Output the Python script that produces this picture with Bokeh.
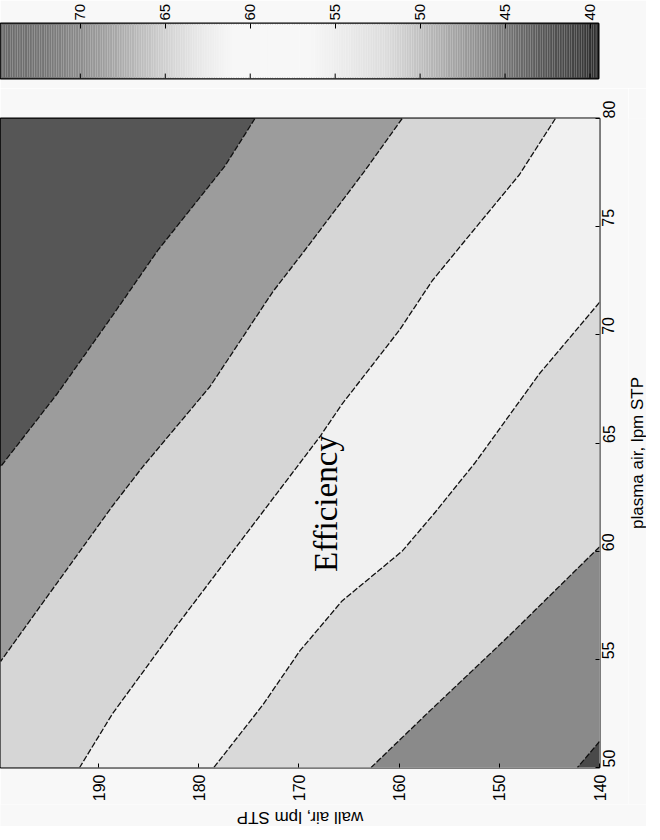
import math
import numpy as np
from bokeh.plotting import figure
from bokeh.models import Range1d, FixedTicker, Label
from bokeh.layouts import column, row
from bokeh.embed import file_html
from bokeh.resources import INLINE

# ---------------- data ----------------
WALL_TICKS = [140, 150, 160, 170, 180, 190]
PLASMA_TICKS = [50, 55, 60, 65, 70, 75, 80]
CB_TICKS = [40, 45, 50, 55, 60, 65, 70]
WALL_MIN, WALL_MAX = 140.0, 199.8
PLASMA_MIN, PLASMA_MAX = 50.0, 80.0
EFF_MIN, EFF_MAX = 39.5, 74.7
LEVELS = [45, 50, 55, 60, 65, 70]

# contour lines: (wall air, plasma air) points, lpm STP
C45_WALL = [174.4, 177.4, 184.1, 188.6, 194.1, 199.8]
C45_PLASMA = [80.0, 77.8, 73.9, 70.9, 67.3, 63.9]
C50_WALL = [159.7, 163.4, 169.1, 172.6, 178.9, 185.6, 188.6, 199.8]
C50_PLASMA = [80.0, 77.6, 74.1, 72.0, 67.6, 63.9, 62.1, 54.9]
C55_WALL = [144.4, 148.0, 153.7, 156.7, 160.0, 165.7, 167.9, 175.6, 182.3, 185.6, 188.6, 191.9]
C55_PLASMA = [80.0, 77.4, 74.2, 72.5, 70.2, 66.8, 65.3, 60.6, 56.5, 54.4, 52.5, 50.0]
C60_WALL = [140.0, 146.0, 152.4, 156.4, 159.7, 165.7, 169.9, 173.6, 178.5]
C60_PLASMA = [71.5, 68.2, 64.1, 61.8, 60.0, 57.7, 55.4, 52.9, 50.0]
C65_WALL = [140.0, 149.0, 157.2, 162.8]
C65_PLASMA = [60.2, 56.1, 52.5, 50.0]
C70_WALL = [140.0, 142.2]
C70_PLASMA = [51.2, 50.0]

CONTOURS = [(C45_WALL, C45_PLASMA), (C50_WALL, C50_PLASMA), (C55_WALL, C55_PLASMA),
            (C60_WALL, C60_PLASMA), (C65_WALL, C65_PLASMA), (C70_WALL, C70_PLASMA)]

# ---------------- styles ----------------
BAND_COLORS = ["#565656", "#9c9c9c", "#d6d6d6", "#f1f1f1", "#d9d9d9", "#8a8a8a", "#4a4a4a"]
CB_STOP_V = [39.5, 41.0, 43.0, 45.0, 47.0, 50.0, 52.0, 55.0, 56.5, 61.0, 63.0, 65.0, 67.0, 70.0, 72.0, 74.7]
CB_STOP_G = [45, 68, 90, 118, 150, 192, 220, 238, 247, 247, 232, 208, 180, 140, 118, 105]
BG = "#f8f8f8"
FONT = "Liberation Sans"

# layout sizes (pixels)
FRAME_W, FRAME_H = 599, 649
TOP_B, RIGHT_B, BOTTOM_B = 30, 29, 37
RT_W, BT_H = 18, 22
TOTAL_W = FRAME_W + RIGHT_B + RT_W
MAIN_H = TOP_B + FRAME_H + BOTTOM_B

# ---------------- helpers ----------------
CORNERS = [(WALL_MAX, PLASMA_MAX), (WALL_MIN, PLASMA_MAX), (WALL_MIN, PLASMA_MIN), (WALL_MAX, PLASMA_MIN)]


def s_of(w, pl):
    eps = 1e-6
    if abs(pl - PLASMA_MAX) < eps:
        return (WALL_MAX - w) / (WALL_MAX - WALL_MIN)
    if abs(w - WALL_MIN) < eps:
        return 1 + (PLASMA_MAX - pl) / (PLASMA_MAX - PLASMA_MIN)
    if abs(pl - PLASMA_MIN) < eps:
        return 2 + (w - WALL_MIN) / (WALL_MAX - WALL_MIN)
    return 3 + (pl - PLASMA_MIN) / (PLASMA_MAX - PLASMA_MIN)


def between_fwd(s0, s1):
    end = s1 if s1 > s0 else s1 + 4
    return [k % 4 for k in range(int(math.floor(s0)) + 1, int(math.ceil(end)))]


def high_side(ws, ps):
    sa, sb = s_of(ws[0], ps[0]), s_of(ws[-1], ps[-1])
    idx = between_fwd(sb, sa)
    if 2 not in idx:
        idx = list(reversed(between_fwd(sa, sb)))
    xs = list(ws) + [CORNERS[i][0] for i in idx]
    ys = list(ps) + [CORNERS[i][1] for i in idx]
    return xs, ys


def gray_hex(v):
    g = int(round(np.interp(v, CB_STOP_V, CB_STOP_G)))
    return "#{0:02x}{0:02x}{0:02x}".format(g)


def style_axis(a, ticks, size):
    a.ticker = FixedTicker(ticks=ticks)
    a.major_label_orientation = math.pi / 2
    a.major_tick_in = 4
    a.major_tick_out = 0
    a.minor_tick_line_color = None
    a.axis_line_color = None
    a.major_label_text_font = FONT
    a.major_label_text_font_size = size
    a.major_label_text_color = "black"


def text_box(w, h):
    f = figure(x_range=Range1d(0, w), y_range=Range1d(h, 0), frame_width=w, frame_height=h,
               output_backend="svg", toolbar_location=None,
               x_axis_location=None, y_axis_location=None,
               min_border_left=0, min_border_right=0, min_border_top=0, min_border_bottom=0,
               background_fill_color=BG, border_fill_color=BG)
    f.grid.visible = False
    f.outline_line_color = None
    return f


# ---------------- colorbar ----------------
cb = figure(x_range=Range1d(EFF_MAX, EFF_MIN), y_range=Range1d(0, 1),
            frame_width=598, frame_height=55, output_backend="svg", toolbar_location=None,
            x_axis_location="above", y_axis_location=None,
            min_border_left=0, min_border_right=TOTAL_W - 598, min_border_top=20, min_border_bottom=10,
            background_fill_color=BG, border_fill_color=BG)
edges = np.linspace(EFF_MIN, EFF_MAX, 353)
mids = (edges[:-1] + edges[1:]) / 2
cb.quad(left=edges[:-1], right=edges[1:], bottom=0, top=1,
        fill_color=[gray_hex(v) for v in mids], line_color=None)
# small inner tick marks on the lower edge of the bar
cb.segment(x0=CB_TICKS, x1=CB_TICKS, y0=[0] * len(CB_TICKS), y1=[0.09] * len(CB_TICKS),
           line_color="black", line_width=1)
cb.grid.visible = False
cb.outline_line_color = "black"
cb.outline_line_width = 2
style_axis(cb.xaxis[0], CB_TICKS, "15px")
cb.xaxis[0].major_tick_in = 5
cb.xaxis[0].major_label_standoff = 3

# ---------------- main contour plot ----------------
p = figure(x_range=Range1d(WALL_MAX, WALL_MIN), y_range=Range1d(PLASMA_MIN, PLASMA_MAX),
           frame_width=FRAME_W, frame_height=FRAME_H, output_backend="svg", toolbar_location=None,
           x_axis_location="below", y_axis_location="right",
           min_border_left=0, min_border_right=RIGHT_B, min_border_top=TOP_B, min_border_bottom=BOTTOM_B,
           background_fill_color=BG, border_fill_color=BG)
p.grid.visible = False

p.quad(left=[WALL_MAX], right=[WALL_MIN], bottom=[PLASMA_MIN], top=[PLASMA_MAX],
       fill_color=BAND_COLORS[0], line_color=None)
for i, (ws, ps) in enumerate(CONTOURS):
    xs, ys = high_side(ws, ps)
    p.patch(xs, ys, fill_color=BAND_COLORS[i + 1], line_color=None)
for ws, ps in CONTOURS:
    p.line(ws, ps, line_color="#111111", line_width=1.3, line_dash="6 2")

p.outline_line_color = "black"
p.outline_line_width = 2

xa, ya = p.xaxis[0], p.yaxis[0]
style_axis(xa, WALL_TICKS, "16px")
style_axis(ya, PLASMA_TICKS, "16px")
xa.major_label_standoff = 7
ya.major_label_standoff = 9

p.add_layout(Label(x=167.3, y=62.2, text="Efficiency", angle=math.pi / 2,
                   text_align="center", text_baseline="alphabetic",
                   text_font="Liberation Serif", text_font_size="33px", text_color="black"))

# ---------------- rotated axis titles ----------------
rt = text_box(RT_W, MAIN_H)
rt.add_layout(Label(x=RT_W / 2, y=TOP_B + FRAME_H / 2 - 20, text="plasma air, lpm STP", angle=math.pi / 2,
                    text_align="center", text_baseline="middle",
                    text_font=FONT, text_font_size="17px", text_color="black"))
bt = text_box(TOTAL_W, BT_H)
bt.add_layout(Label(x=FRAME_W / 2, y=BT_H / 2 + 2, text="wall air, lpm STP", angle=math.pi,
                    text_align="center", text_baseline="middle",
                    text_font=FONT, text_font_size="17px", text_color="black"))

layout = column(cb, row(p, rt, spacing=0), bt, spacing=0)
open("out.html", "w").write(file_html(layout, INLINE))
